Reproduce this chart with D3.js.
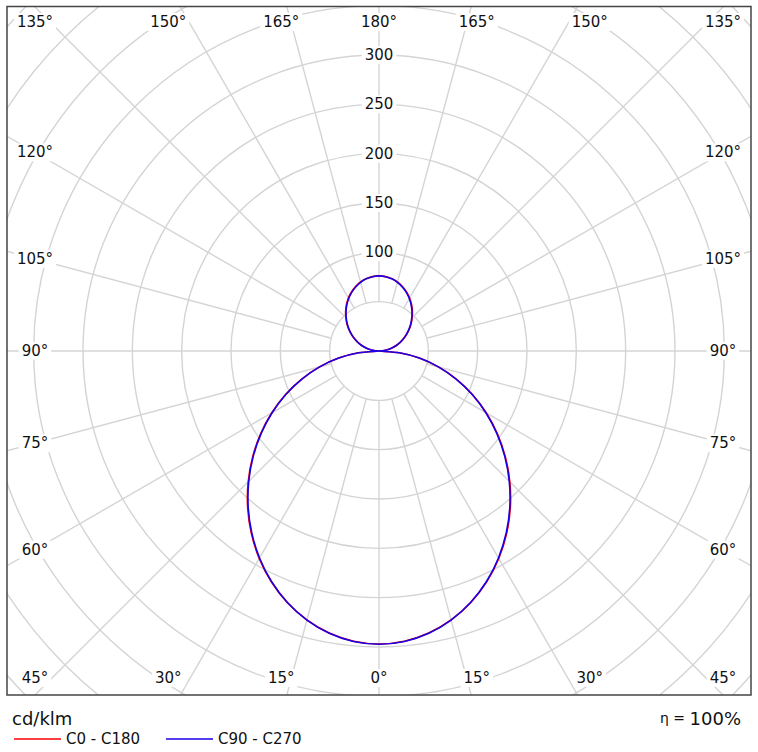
<!DOCTYPE html>
<html>
<head>
<meta charset="utf-8">
<script src="https://cdn.jsdelivr.net/npm/d3@7"></script>
<style>
  body { margin: 0; background: #fff; }
  text { font-family: "DejaVu Sans", sans-serif; fill: #111; }
</style>
</head>
<body>
<div id="chart"></div>
<script>
// gamma angles (0 = down, 180 = up), in degrees
const angles = [0, 5, 10, 15, 20, 25, 30, 35, 40, 45, 50, 55, 60, 65, 70, 75, 80, 85, 90,
  95, 100, 105, 110, 115, 120, 125, 130, 135, 140, 145, 150, 155, 160, 165, 170, 175, 180];

// luminous intensity, cd/klm
const c0c180 = [297, 295.3, 290.3, 282.2, 271.5, 258.2, 242.8, 225.6, 207.1, 187.5, 167.3, 146.6, 125.6,
  104.5, 83.3, 62.3, 41.5, 20.7, 0, 5.1, 10.3, 15.5, 20.8, 26.1, 31.5, 36.9, 42.3, 47.5, 52.6, 57.5,
  62.0, 66.0, 69.5, 72.4, 74.5, 75.7, 76.2];
const c90c270 = [297.2, 295.5, 290.5, 282.3, 271.3, 257.8, 242.2, 224.9, 206.3, 186.7, 166.5, 145.9, 125.1,
  104.2, 83.2, 62.3, 41.5, 20.7, 0, 5.1, 10.3, 15.5, 20.7, 25.9, 31.2, 36.5, 41.8, 46.9, 52.0, 56.9,
  61.4, 65.5, 69.1, 72.1, 74.3, 75.6, 76.1];

const ringValues = [50, 100, 150, 200, 250, 300, 350, 400, 450, 500, 550];
const ringLabels = [100, 150, 200, 250, 300];
const spokeAngles = [0, 15, 30, 45, 60, 75, 90, 105, 120, 135, 150, 165, 180];

const width = 758, height = 752;
const cx = 379, cy = 351;
const frame = { x0: 7, y0: 6.5, x1: 751, y1: 695 };

const r = d3.scaleLinear().domain([0, 300]).range([0, 296]);

const svg = d3.select("#chart").append("svg")
  .attr("width", width)
  .attr("height", height);

svg.append("clipPath").attr("id", "clip")
  .append("rect")
  .attr("x", frame.x0).attr("y", frame.y0)
  .attr("width", frame.x1 - frame.x0).attr("height", frame.y1 - frame.y0);

const plot = svg.append("g").attr("clip-path", "url(#clip)");
const g = plot.append("g").attr("transform", `translate(${cx},${cy})`);

// grid rings
g.selectAll("circle.ring")
  .data(ringValues)
  .join("circle")
  .attr("class", "ring")
  .attr("r", d => r(d))
  .attr("fill", "none")
  .attr("stroke", "#d4d4d4")
  .attr("stroke-width", 1.4);

// spokes, both sides, starting at the 50 ring
const spokes = [];
spokeAngles.forEach(a => {
  spokes.push({ a: a, s: 1 });
  if (a !== 0 && a !== 180) spokes.push({ a: a, s: -1 });
});
g.selectAll("line.spoke")
  .data(spokes)
  .join("line")
  .attr("class", "spoke")
  .attr("x1", d => d.s * r(50) * Math.sin(d.a * Math.PI / 180))
  .attr("y1", d => r(50) * Math.cos(d.a * Math.PI / 180))
  .attr("x2", d => d.s * r(700) * Math.sin(d.a * Math.PI / 180))
  .attr("y2", d => r(700) * Math.cos(d.a * Math.PI / 180))
  .attr("stroke", "#d4d4d4")
  .attr("stroke-width", 1.4);

// curves: right half then left half, closed
function curvePoints(values) {
  const pts = [];
  angles.forEach((a, i) => pts.push([Math.PI - a * Math.PI / 180, r(values[i])]));
  for (let i = angles.length - 2; i > 0; i--) {
    pts.push([Math.PI + angles[i] * Math.PI / 180, r(values[i])]);
  }
  return pts;
}
const radial = d3.lineRadial()
  .angle(d => d[0])
  .radius(d => d[1])
  .curve(d3.curveCatmullRomClosed);

g.append("path")
  .attr("d", radial(curvePoints(c0c180)))
  .attr("fill", "none")
  .attr("stroke", "#ff0000")
  .attr("stroke-width", 1.6);
g.append("path")
  .attr("d", radial(curvePoints(c90c270)))
  .attr("fill", "none")
  .attr("stroke", "#1a00e6")
  .attr("stroke-width", 1.6);

// label helper with white box
function boxedLabel(parent, x, y, txt, size) {
  const grp = parent.append("g");
  const t = grp.append("text")
    .attr("x", x).attr("y", y)
    .attr("text-anchor", "middle")
    .attr("dominant-baseline", "central")
    .style("font-size", size + "px")
    .text(txt);
  const bb = t.node().getBBox();
  grp.insert("rect", "text")
    .attr("x", bb.x - 3).attr("y", bb.y)
    .attr("width", bb.width + 6).attr("height", bb.height)
    .attr("fill", "#fff");
}

// value labels on the upward axis
ringLabels.forEach(v => boxedLabel(svg, cx, cy - r(v), v, 15));

// angle labels around the frame
const halfW = 344, halfH = 365;
spokes.forEach(d => {
  const rad = d.a * Math.PI / 180;
  const dx = Math.sin(rad), dy = Math.cos(rad);
  const t = Math.min(Math.abs(dx) > 1e-6 ? halfW / Math.abs(dx) : Infinity,
                     Math.abs(dy) > 1e-6 ? halfH / Math.abs(dy) : Infinity);
  let x = cx + d.s * t * dx;
  let y = cy + t * dy;
  x = Math.max(30, Math.min(728, x));
  y = Math.max(22, Math.min(678, y));
  boxedLabel(svg, x, y, d.a + "°", 15);
});
// 135° and 45° corners on the right side share the same rule as left

// frame
svg.append("rect")
  .attr("x", frame.x0).attr("y", frame.y0)
  .attr("width", frame.x1 - frame.x0).attr("height", frame.y1 - frame.y0)
  .attr("fill", "none")
  .attr("stroke", "#444")
  .attr("stroke-width", 1.5);

// unit + efficiency
svg.append("text")
  .attr("x", 12).attr("y", 718)
  .attr("dominant-baseline", "central")
  .style("font-size", "18px")
  .text("cd/klm");
svg.append("text")
  .attr("x", 741).attr("y", 718)
  .attr("text-anchor", "end")
  .attr("dominant-baseline", "central")
  .style("font-size", "18px")
  .html('<tspan style="font-size:14px">η = </tspan>100%');

// legend
const legend = [
  { label: "C0 - C180", color: "#ff0000", x: 14 },
  { label: "C90 - C270", color: "#1a00e6", x: 166 }
];
const lg = svg.append("g").selectAll("g").data(legend).join("g");
lg.append("line")
  .attr("x1", d => d.x).attr("x2", d => d.x + 47)
  .attr("y1", 739).attr("y2", 739)
  .attr("stroke", d => d.color)
  .attr("stroke-width", 1.6);
lg.append("text")
  .attr("x", d => d.x + 52).attr("y", 739)
  .attr("dominant-baseline", "central")
  .style("font-size", "15px")
  .text(d => d.label);
</script>
</body>
</html>
